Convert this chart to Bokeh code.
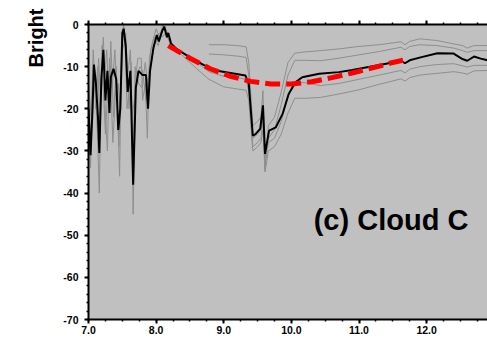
import numpy as np
from bokeh.plotting import figure
from bokeh.models import (Range1d, LinearAxis, FixedTicker, PrintfTickFormatter, Label,
                          CustomJSTickFormatter, Title)
from bokeh.embed import file_html
from bokeh.resources import INLINE

# ---- data: main (black) spectrum ----
black_x = [7.00, 7.03, 7.06, 7.08, 7.11, 7.14, 7.16, 7.19, 7.22, 7.25, 7.28, 7.31, 7.33, 7.37,
           7.41, 7.44, 7.47, 7.50, 7.52, 7.55, 7.58, 7.62, 7.66, 7.70, 7.74, 7.80, 7.85, 7.88,
           7.91, 7.96, 8.01, 8.04, 8.09, 8.12, 8.16, 8.18, 8.22,
           8.30, 8.50, 8.70, 8.88, 9.10, 9.32, 9.37, 9.43, 9.47, 9.54, 9.58, 9.61, 9.67, 9.77,
           9.87, 9.96, 10.06, 10.16, 10.41, 10.70, 10.90, 11.10, 11.30, 11.50, 11.62, 11.68,
           11.75, 11.91, 12.16, 12.40, 12.53, 12.60, 12.70, 12.80, 12.93]
black_y = [-20, -31, -20, -9.5, -14, -22, -30.5, -13, -6, -18, -11, -21, -12.5, -10.5,
           -13, -25, -20, -2, -1, -5, -16, -11, -38, -15, -11, -12, -12, -20,
           -11, -5.5, -2.5, -4, -1.5, -0.5, -3, -2, -4.5,
           -5.8, -7.8, -9.6, -10.9, -11.5, -12.1, -14.1, -26.4, -26, -24.7, -19.2, -30.7, -25.2, -24.4,
           -21.2, -16.5, -13.7, -12.5, -11.7, -11.3, -10.8, -10.2, -9.6, -9.0, -8.6, -9.2,
           -8.5, -7.8, -6.8, -6.9, -8.2, -8.6, -7.6, -8.1, -8.6]

# ---- data: neighbouring (grey) spectra, noisy window part ----
n1_x = [7.00, 7.03, 7.06, 7.09, 7.13, 7.16, 7.19, 7.22, 7.25, 7.28, 7.31, 7.35, 7.39, 7.43, 7.46,
        7.49, 7.52, 7.56, 7.60, 7.63, 7.66, 7.70, 7.73, 7.78, 7.80, 7.84, 7.87, 7.90, 7.95, 8.00,
        8.05, 8.10, 8.14, 8.18, 8.22]
n1_y = [-24, -34, -15, -12, -25, -40, -10, -3, -22, -30, -8, -15, -6, -20, -36,
        -4, 0, -8, -20, -9, -45, -12, -8, -8, -18, -14, -27, -8, -4, -1,
        -3, 0, -1, -2.5, -4]
n2_x = [7.00, 7.03, 7.07, 7.10, 7.14, 7.17, 7.20, 7.24, 7.27, 7.30, 7.33, 7.37, 7.41, 7.45, 7.48,
        7.51, 7.55, 7.58, 7.62, 7.66, 7.69, 7.74, 7.79, 7.84, 7.88, 7.92, 7.97, 8.03, 8.08, 8.12,
        8.17, 8.22]
n2_y = [-17, -28, -6, -16, -10, -27, -5, -12, -6, -18, -4, -22, -10, -29, -12,
        -3, -2, -12, -6, -32, -10, -14, -15, -9, -15, -6, -3, -5, -2, -1,
        -3, -5]
n3_x = [7.00, 7.04, 7.07, 7.11, 7.15, 7.18, 7.21, 7.25, 7.29, 7.32, 7.36, 7.40, 7.44, 7.47, 7.50,
        7.54, 7.57, 7.61, 7.64, 7.68, 7.72, 7.76, 7.80, 7.85, 7.89, 7.94, 7.99, 8.04, 8.09, 8.14,
        8.20]
n3_y = [-14, -22, -10, -20, -8, -18, -12, -26, -14, -10, -28, -16, -14, -22, -6,
        -4, -20, -14, -22, -18, -12, -10, -11, -18, -12, -8, -4, -2, -3, -2,
        -4]

# ---- data: neighbouring (grey) spectra, smooth part ----
s_x = [8.78, 9.00, 9.20, 9.33, 9.37, 9.43, 9.50, 9.55, 9.58, 9.61, 9.66, 9.75, 9.85, 9.95,
       10.05, 10.20, 10.43, 10.70, 11.00, 11.30, 11.62, 11.68, 11.75, 11.90, 12.15, 12.40,
       12.53, 12.60, 12.70, 12.93]
gA_y = [-4.8, -4.8, -5.0, -5.3, -9, -24, -23, -22, -15.7, -34.7, -24, -22, -16, -9,
        -6.8, -6.5, -6.2, -5.8, -5.2, -4.8, -4.1, -4.8, -4.0, -3.4, -3.8, -4.6,
        -5.0, -5.6, -5.0, -5.0]
gB_y = [-7.0, -7.2, -7.5, -7.8, -12, -27, -26, -25, -20, -32, -27, -25, -19, -12,
        -8.5, -8.5, -8.6, -8.0, -7.2, -6.4, -5.4, -6.0, -5.2, -4.8, -5.0, -5.6,
        -6.2, -6.6, -6.2, -6.2]
lead_x = [8.22, 8.40, 8.60]
gC_lead = [-4.5, -6.8, -9.0]
gC_y = [-11.2, -12.3, -12.6, -13.0, -16, -29, -28, -27, -22, -33, -28, -27, -23, -17,
        -13.8, -13.8, -14.5, -14.0, -13.0, -12.0, -10.9, -11.5, -10.6, -10.0, -9.5, -9.3,
        -9.8, -10.1, -9.7, -9.7]
gD_lead = [-5.0, -7.5, -10.5]
gD_y = [-13.0, -14.8, -15.3, -15.6, -18, -30, -29, -28, -25, -35, -30, -29, -26, -21,
        -17.5, -17.5, -17.3, -16.5, -15.5, -14.2, -12.9, -13.4, -12.6, -12.0, -11.6, -11.2,
        -11.5, -11.8, -11.0, -10.9]

# ---- data: red dashed baseline fit ----
fit_x = [8.18, 8.5, 8.8, 9.1, 9.4, 9.7, 10.0, 10.3, 10.6, 10.9, 11.2, 11.5, 11.65]
fit_y = [-5.0, -8.0, -10.5, -12.3, -13.5, -14.1, -14.1, -13.6, -12.6, -11.5, -10.3, -9.0, -8.5]

x_ticks = [7, 8, 9, 10, 11, 12, 13]
y_ticks = [-70, -60, -50, -40, -30, -20, -10, 0]
y_label = "Bright"
panel_label = "(c) Cloud C"

FONT = "Liberation Sans"

p = figure(width=487, height=338, x_range=Range1d(7.0, 12.90), y_range=Range1d(-70, 0),
           output_backend="svg", toolbar_location=None,
           min_border_left=88, min_border_right=0, min_border_top=24, min_border_bottom=19)
p.grid.visible = False
p.background_fill_color = "#c0c0c0"
p.border_fill_color = "white"
p.outline_line_color = None

xt = FixedTicker(ticks=x_ticks, minor_ticks=list(np.arange(7.0, 13.01, 0.25)))
yt = FixedTicker(ticks=y_ticks, minor_ticks=list(range(-70, 1, 2)))

top = LinearAxis(ticker=xt, formatter=CustomJSTickFormatter(code="return ''"))
p.add_layout(top, "above")
bottom = p.below[0]
left = p.left[0]

for ax in [bottom, left, top]:
    ax.axis_line_width = 2
    ax.axis_line_color = "black"
    ax.major_tick_line_width = 2
    ax.minor_tick_line_width = 1.5
    ax.major_tick_in = 0
    ax.minor_tick_in = 0
    ax.major_tick_out = 4
    ax.minor_tick_out = 2
    ax.major_label_text_font = FONT
    ax.major_label_text_font_style = "bold"
    ax.major_label_text_font_size = "10.5px"
    ax.major_label_text_color = "black"

bottom.ticker = xt
bottom.formatter = PrintfTickFormatter(format="%.1f")
bottom.major_label_standoff = 2
left.ticker = yt
left.formatter = PrintfTickFormatter(format="%d")
left.major_label_standoff = 6
top.major_label_standoff = 0

# cropped y-axis title, pushed toward the top of the left margin
p.add_layout(Title(text=y_label, align="right", offset=-16, standoff=28, text_font=FONT,
                   text_font_style="bold", text_font_size="20px", text_color="black"), "left")

grey = "#8e8e8e"
for xs, ys in [(n1_x, n1_y), (n2_x, n2_y), (n3_x, n3_y),
               (s_x, gA_y), (s_x, gB_y),
               (lead_x + s_x, gC_lead + gC_y), (lead_x + s_x, gD_lead + gD_y)]:
    p.line(xs, ys, line_color=grey, line_width=1)

p.line(black_x, black_y, line_color="black", line_width=2)
p.line(fit_x, fit_y, line_color="#ff0000", line_width=5, line_dash="15 6")

p.add_layout(Label(x=10.33, y=-46.5, text=panel_label, text_font=FONT,
                   text_font_style="bold", text_font_size="29px", text_color="black",
                   text_baseline="alphabetic", text_align="left"))

open("out.html", "w").write(file_html(p, INLINE))
